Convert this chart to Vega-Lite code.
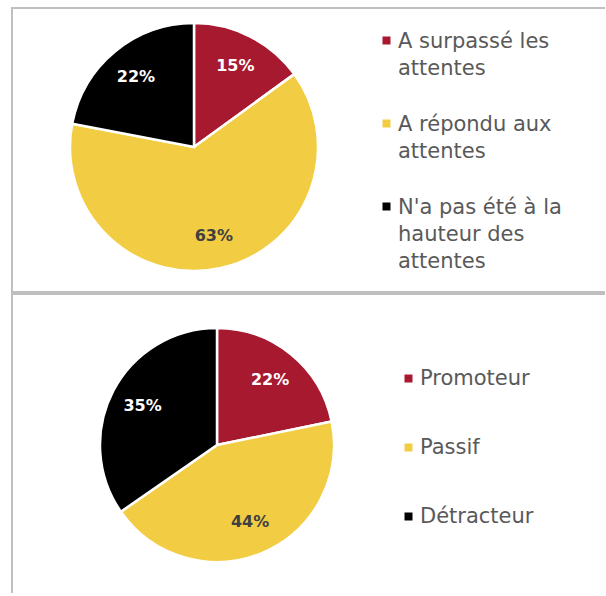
{
  "$schema": "https://vega.github.io/schema/vega-lite/v6.json",
  "padding": {"left": 11, "top": 7, "right": -8, "bottom": -12},
  "spacing": 0,
  "config": {
    "view": {"stroke": "#BFBFBF", "strokeWidth": 2},
    "style": {"guide-label": {"lineHeight": 27}},
    "legend": {
      "labelFont": "DejaVu Sans",
      "labelFontSize": 21,
      "labelColor": "#595959",
      "symbolSize": 64,
      "symbolStrokeWidth": 0,
      "labelOffset": 1,
      "labelLimit": 400,
      "title": null,
      "orient": "none",
      "padding": 0
    }
  },
  "resolve": {"scale": {"color": "independent"}, "legend": {"color": "independent"}},
  "vconcat": [
    {
      "width": 600,
      "height": 284,
      "view": {"stroke": "#BFBFBF", "strokeWidth": 2},
      "data": {"values": [
        {"cat": "A surpassé les attentes", "v": 15, "lab": "15%", "o": 1},
        {"cat": "A répondu aux attentes", "v": 63, "lab": "63%", "o": 2},
        {"cat": "N'a pas été à la hauteur des attentes", "v": 22, "lab": "22%", "o": 3}
      ]},
      "encoding": {
        "theta": {"field": "v", "type": "quantitative", "stack": true},
        "order": {"field": "o", "type": "quantitative"}
      },
      "layer": [
        {
          "mark": {"type": "arc", "outerRadius": 124, "stroke": "white", "strokeWidth": 2.5, "x": 182, "y": 139},
          "encoding": {
            "color": {
              "field": "cat", "type": "nominal",
              "scale": {"domain": ["A surpassé les attentes", "A répondu aux attentes", "N'a pas été à la hauteur des attentes"], "range": ["#A6192E", "#F2CD44", "#000000"]},
              "legend": {
                "legendX": 364, "legendY": 12, "labelBaseline": "top", "rowPadding": 24,
                "symbolType": "M-1,1.5H1V3.5H-1Z",
                "labelExpr": "datum.label == 'A surpassé les attentes' ? ['A surpassé les', 'attentes'] : datum.label == 'A répondu aux attentes' ? ['A répondu aux', 'attentes'] : ['N\\'a pas été à la', 'hauteur des', 'attentes']"
              }
            }
          }
        },
        {
          "mark": {"type": "text", "radius": 91, "font": "DejaVu Sans", "fontWeight": "bold", "fontSize": 16, "x": 182, "y": 139},
          "encoding": {
            "text": {"field": "lab"},
            "color": {"condition": {"test": "datum.o == 2", "value": "#404040"}, "value": "#FFFFFF"}
          }
        }
      ]
    },
    {
      "width": 600,
      "height": 310,
      "view": {"stroke": "#BFBFBF", "strokeWidth": 2},
      "data": {"values": [
        {"cat": "Promoteur", "v": 22, "lab": "22%", "o": 1},
        {"cat": "Passif", "v": 44, "lab": "44%", "o": 2},
        {"cat": "Détracteur", "v": 35, "lab": "35%", "o": 3}
      ]},
      "encoding": {
        "theta": {"field": "v", "type": "quantitative", "stack": true},
        "order": {"field": "o", "type": "quantitative"}
      },
      "layer": [
        {
          "mark": {"type": "arc", "outerRadius": 117, "stroke": "white", "strokeWidth": 2.5, "x": 205, "y": 151},
          "encoding": {
            "color": {
              "field": "cat", "type": "nominal",
              "scale": {"domain": ["Promoteur", "Passif", "Détracteur"], "range": ["#A6192E", "#F2CD44", "#000000"]},
              "legend": {"legendX": 386, "legendY": 74, "rowPadding": 47, "symbolType": "square"}
            }
          }
        },
        {
          "mark": {"type": "text", "radius": 84, "font": "DejaVu Sans", "fontWeight": "bold", "fontSize": 16, "x": 205, "y": 151},
          "encoding": {
            "text": {"field": "lab"},
            "color": {"condition": {"test": "datum.o == 2", "value": "#404040"}, "value": "#FFFFFF"}
          }
        }
      ]
    }
  ]
}
